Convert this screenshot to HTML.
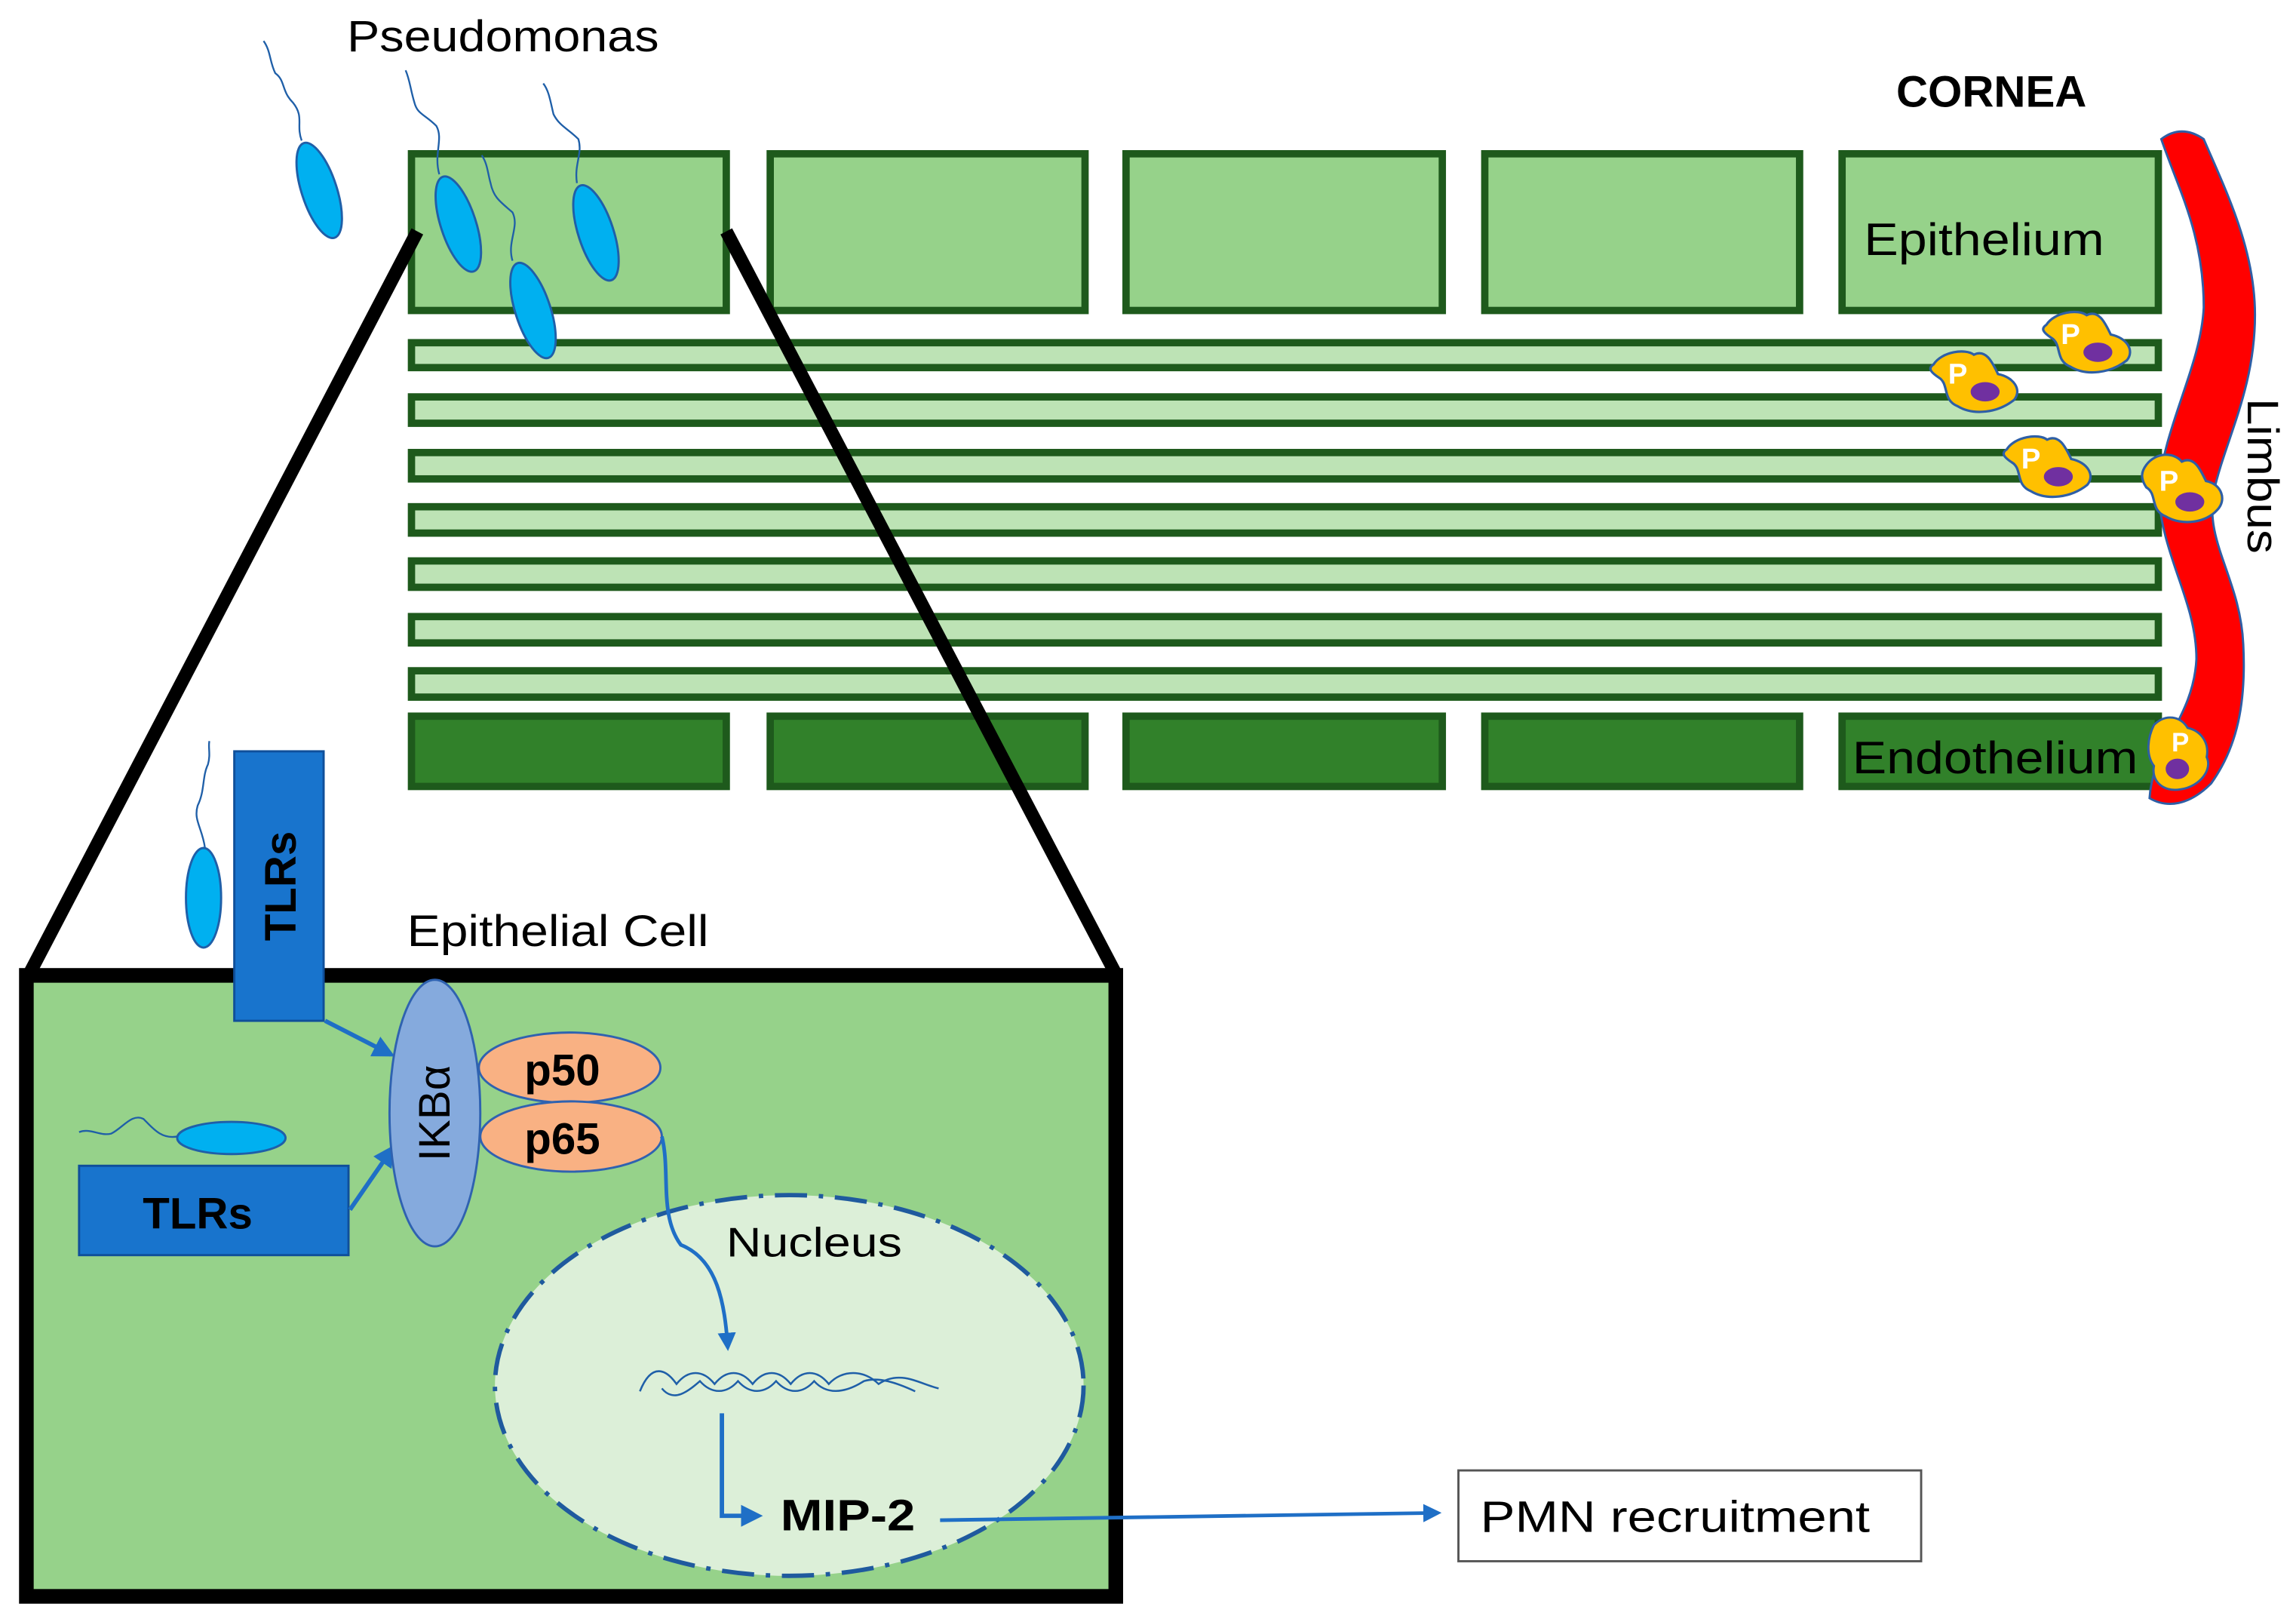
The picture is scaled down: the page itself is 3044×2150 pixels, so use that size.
<!DOCTYPE html>
<html><head><meta charset="utf-8"><style>html,body{margin:0;padding:0;background:#fff}svg{display:block}</style></head>
<body>
<svg xmlns="http://www.w3.org/2000/svg" width="3044" height="2150" viewBox="0 0 1568 1107.5" font-family="Liberation Sans, sans-serif">
<defs>
<marker id="ar" viewBox="0 0 10 10" refX="8" refY="5" markerWidth="5" markerHeight="5" orient="auto"><path d="M0,0 L10,5 L0,10 Z" fill="#1f6fc6"/></marker>
</defs>
<rect width="1568" height="1107.5" fill="#fff"/>
<g fill="#96d28a" stroke="#1e5a1c" stroke-width="5">
<rect x="281" y="105" width="215" height="107"/>
<rect x="526" y="105" width="215" height="107"/>
<rect x="769" y="105" width="216" height="107"/>
<rect x="1014" y="105" width="215" height="107"/>
<rect x="1258" y="105" width="216" height="107"/>
</g>
<g fill="#bde3b5" stroke="#1e5a1c" stroke-width="5">
<rect x="281" y="234" width="1193" height="17"/>
<rect x="281" y="271" width="1193" height="18"/>
<rect x="281" y="309" width="1193" height="18"/>
<rect x="281" y="346" width="1193" height="18"/>
<rect x="281" y="383" width="1193" height="18"/>
<rect x="281" y="421" width="1193" height="18"/>
<rect x="281" y="458" width="1193" height="18"/>
</g>
<g fill="#31812a" stroke="#1e5a1c" stroke-width="5">
<rect x="281" y="489" width="215" height="48"/>
<rect x="526" y="489" width="215" height="48"/>
<rect x="769" y="489" width="216" height="48"/>
<rect x="1014" y="489" width="215" height="48"/>
<rect x="1258" y="489" width="216" height="48"/>
</g>
<text x="237" y="35" font-size="30" fill="#000" textLength="213" lengthAdjust="spacingAndGlyphs">Pseudomonas</text>
<text x="1295" y="73" font-size="30" font-weight="bold" fill="#000" textLength="130" lengthAdjust="spacingAndGlyphs">CORNEA</text>
<text x="1273" y="174" font-size="31" fill="#000" textLength="164" lengthAdjust="spacingAndGlyphs">Epithelium</text>
<text x="1265" y="528" font-size="31" fill="#000" textLength="195" lengthAdjust="spacingAndGlyphs">Endothelium</text>
<path d="M1476,95 C1488,130 1505,160 1505,210 C1503,250 1478,290 1474,335 C1476,380 1500,410 1500,450 C1498,490 1470,510 1468,545 C1480,552 1495,550 1510,535 C1528,510 1534,480 1532,440 C1530,395 1505,370 1512,335 C1520,300 1540,265 1540,215 C1540,170 1520,130 1505,95 C1495,88 1485,88 1476,95Z" fill="#ff0000" stroke="#2e5fa6" stroke-width="1.5"/>
<text transform="translate(1535,272) rotate(90)" font-size="30" fill="#000" textLength="106" lengthAdjust="spacingAndGlyphs">Limbus</text>
<g transform="translate(1425,235) scale(1.1)"><path d="M-25,-12 C-20,-20 -5,-22 0,-18 C8,-22 12,-12 15,-6 C25,-4 30,4 25,10 C15,18 0,20 -10,14 C-20,10 -15,0 -22,-4 C-28,-8 -28,-10 -25,-12Z" fill="#ffc000" stroke="#2e5fa6" stroke-width="1.5"/><ellipse cx="7" cy="5" rx="9" ry="6" fill="#7030a0"/><text x="-16" y="0" font-size="18" font-weight="bold" fill="#fff">P</text></g>
<g transform="translate(1348,262) scale(1.1)"><path d="M-25,-12 C-20,-20 -5,-22 0,-18 C8,-22 12,-12 15,-6 C25,-4 30,4 25,10 C15,18 0,20 -10,14 C-20,10 -15,0 -22,-4 C-28,-8 -28,-10 -25,-12Z" fill="#ffc000" stroke="#2e5fa6" stroke-width="1.5"/><ellipse cx="7" cy="5" rx="9" ry="6" fill="#7030a0"/><text x="-16" y="0" font-size="18" font-weight="bold" fill="#fff">P</text></g>
<g transform="translate(1398,320) scale(1.1)"><path d="M-25,-12 C-20,-20 -5,-22 0,-18 C8,-22 12,-12 15,-6 C25,-4 30,4 25,10 C15,18 0,20 -10,14 C-20,10 -15,0 -22,-4 C-28,-8 -28,-10 -25,-12Z" fill="#ffc000" stroke="#2e5fa6" stroke-width="1.5"/><ellipse cx="7" cy="5" rx="9" ry="6" fill="#7030a0"/><text x="-16" y="0" font-size="18" font-weight="bold" fill="#fff">P</text></g>
<g transform="translate(1490,335) scale(1.1)"><path d="M-22,-16 C-16,-24 -5,-24 0,-18 C8,-22 12,-12 15,-6 C25,-4 28,6 22,12 C15,20 0,22 -10,16 C-20,12 -15,2 -22,-2 C-26,-8 -25,-12 -22,-16Z" fill="#ffc000" stroke="#2e5fa6" stroke-width="1.5"/><ellipse cx="5" cy="7" rx="9" ry="6" fill="#7030a0"/><text x="-14" y="0" font-size="18" font-weight="bold" fill="#fff">P</text></g>
<g transform="translate(1489,515)"><path d="M-18,-20 C-10,-28 0,-26 5,-18 C14,-16 20,-8 18,2 C22,10 14,22 0,24 C-12,26 -20,18 -18,8 C-24,0 -22,-12 -18,-20Z" fill="#ffc000" stroke="#2e5fa6" stroke-width="1.5"/><ellipse cx="-2" cy="10" rx="8" ry="7" fill="#7030a0"/><text x="-6" y="-2" font-size="18" font-weight="bold" fill="#fff">P</text></g>
<g fill="#00b0f0" stroke="#1f5fa8" stroke-width="1.5">
<ellipse cx="218" cy="130" rx="12" ry="34" transform="rotate(-18 218 130)"/>
<ellipse cx="313" cy="153" rx="12" ry="34" transform="rotate(-18 313 153)"/>
<ellipse cx="407" cy="159" rx="12" ry="34" transform="rotate(-18 407 159)"/>
<ellipse cx="364" cy="212" rx="12" ry="34" transform="rotate(-18 364 212)"/>
</g>
<g fill="none" stroke="#1f5fa8" stroke-width="1.2">
<path d="M206,96 C202,85 208,80 200,70 C192,62 195,55 188,50 C184,42 185,35 180,28"/>
<path d="M300,119 C296,105 303,95 298,86 C290,78 285,78 283,70 C280,60 280,55 277,48"/>
<path d="M394,125 C392,112 398,105 395,95 C388,88 382,86 378,78 C376,70 375,62 371,57"/>
<path d="M350,178 C346,165 355,155 350,145 C342,138 337,135 335,125 C333,118 333,112 329,106"/>
</g>
<line x1="285" y1="158" x2="20" y2="665" stroke="#000" stroke-width="9"/>
<line x1="496" y1="158" x2="762" y2="665" stroke="#000" stroke-width="9"/>
<rect x="18" y="666" width="744" height="424" fill="#96d28a" stroke="#000" stroke-width="10"/>
<text x="278" y="646" font-size="30" fill="#000" textLength="206" lengthAdjust="spacingAndGlyphs">Epithelial Cell</text>
<rect x="160" y="513" width="61" height="184" fill="#1874cd" stroke="#0f4f9a" stroke-width="1.5"/>
<text transform="translate(202,605) rotate(-90)" font-size="30" font-weight="bold" text-anchor="middle" fill="#000">TLRs</text>
<ellipse cx="139" cy="613" rx="12" ry="34" fill="#00b0f0" stroke="#1f5fa8" stroke-width="1.5"/>
<path d="M140,579 C138,565 132,560 135,550 C140,540 138,530 142,522 C144,515 142,510 143,506" fill="none" stroke="#1f5fa8" stroke-width="1.2"/>
<rect x="54" y="796" width="184" height="61" fill="#1874cd" stroke="#0f4f9a" stroke-width="1.5"/>
<text x="135" y="839" font-size="30" font-weight="bold" text-anchor="middle" fill="#000">TLRs</text>
<ellipse cx="158" cy="777" rx="37" ry="11" fill="#00b0f0" stroke="#1f5fa8" stroke-width="1.5"/>
<path d="M54,773 C62,770 68,776 76,774 C84,770 90,760 98,764 C104,770 110,778 121,776" fill="none" stroke="#1f5fa8" stroke-width="1.2"/>
<line x1="222" y1="697" x2="267" y2="720" stroke="#1f6fc6" stroke-width="3" marker-end="url(#ar)"/>
<line x1="239" y1="826" x2="268" y2="784" stroke="#1f6fc6" stroke-width="3" marker-end="url(#ar)"/>
<ellipse cx="297" cy="760" rx="31" ry="91" fill="#85aadd" stroke="#2f62b0" stroke-width="1.5"/>
<text transform="translate(307,760) rotate(-90)" font-size="30" text-anchor="middle" fill="#000">IKBα</text>
<ellipse cx="389" cy="729" rx="62" ry="24" fill="#f9b183" stroke="#2f62b0" stroke-width="1.5"/>
<ellipse cx="390" cy="776" rx="62" ry="24" fill="#f9b183" stroke="#2f62b0" stroke-width="1.5"/>
<text x="384" y="741" font-size="30" font-weight="bold" text-anchor="middle" fill="#000">p50</text>
<text x="384" y="788" font-size="30" font-weight="bold" text-anchor="middle" fill="#000">p65</text>
<ellipse cx="539" cy="946" rx="201" ry="130" fill="#dcefd8" stroke="#1f5a9e" stroke-width="3" stroke-dasharray="22,8,3,8"/>
<text x="496" y="858" font-size="28" fill="#000" textLength="120" lengthAdjust="spacingAndGlyphs">Nucleus</text>
<path d="M452,776 C458,800 450,830 465,850 C490,860 495,890 497,920" fill="none" stroke="#1f6fc6" stroke-width="2.5" marker-end="url(#ar)"/>
<path d="M437,950 C445,930 455,935 462,945 C470,935 480,935 488,945 C496,935 506,935 514,945 C522,935 532,935 540,945 C548,935 558,935 566,945 C575,935 590,935 600,945 C615,935 628,945 641,948 M452,948 C460,958 470,950 478,943 C486,952 496,952 504,943 C512,952 522,952 530,943 C538,952 548,952 556,943 C564,952 576,952 590,943 C600,940 612,944 625,950" fill="none" stroke="#1f5fa8" stroke-width="1.3"/>
<path d="M493,965 L493,1035 L518,1035" fill="none" stroke="#1f6fc6" stroke-width="3" marker-end="url(#ar)"/>
<text x="533" y="1045" font-size="30" font-weight="bold" fill="#000" textLength="92" lengthAdjust="spacingAndGlyphs">MIP-2</text>
<line x1="642" y1="1038" x2="982" y2="1033" stroke="#1f6fc6" stroke-width="2.5" marker-end="url(#ar)"/>
<rect x="996" y="1004" width="316" height="62" fill="#fff" stroke="#555" stroke-width="1.5"/>
<text x="1011" y="1046" font-size="30" fill="#000" textLength="266" lengthAdjust="spacingAndGlyphs">PMN recruitment</text>
</svg>
</body></html>
